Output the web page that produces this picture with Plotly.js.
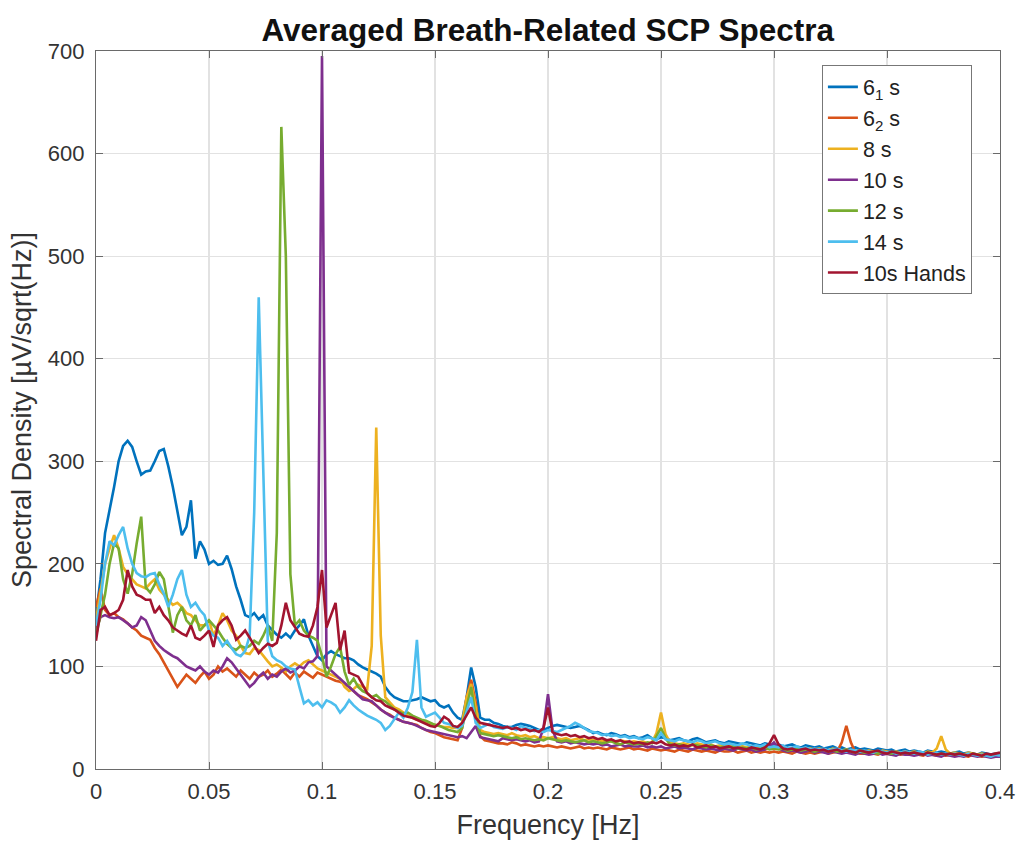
<!DOCTYPE html>
<html>
<head>
<meta charset="utf-8">
<script src="https://cdn.plot.ly/plotly-3.0.1.min.js"></script>
<style>html,body{margin:0;padding:0;background:#fff;}#chart{width:1020px;height:843px;}</style>
</head>
<body>
<div id="chart"></div>
<script>
// Frequency grid [Hz]
const freq = [
0,0.002,0.004,0.006,0.008,0.01,0.012,0.014,0.016,0.018,
0.02,0.022,0.024,0.026,0.028,0.03,0.032,0.034,0.036,0.038,
0.04,0.042,0.044,0.046,0.048,0.05,0.052,0.054,0.056,0.058,
0.06,0.062,0.064,0.066,0.068,0.07,0.072,0.074,0.076,0.078,
0.08,0.082,0.084,0.086,0.088,0.09,0.092,0.094,0.096,0.098,
0.1,0.102,0.104,0.106,0.108,0.11,0.112,0.114,0.116,0.118,
0.12,0.122,0.124,0.126,0.128,0.13,0.132,0.134,0.136,0.138,
0.14,0.142,0.144,0.146,0.148,0.15,0.152,0.154,0.156,0.158,
0.16,0.162,0.164,0.166,0.168,0.17,0.172,0.174,0.176,0.178,
0.18,0.182,0.184,0.186,0.188,0.19,0.192,0.194,0.196,0.198,
0.2,0.202,0.204,0.206,0.208,0.21,0.212,0.214,0.216,0.218,
0.22,0.222,0.224,0.226,0.228,0.23,0.232,0.234,0.236,0.238,
0.24,0.242,0.244,0.246,0.248,0.25,0.252,0.254,0.256,0.258,
0.26,0.262,0.264,0.266,0.268,0.27,0.272,0.274,0.276,0.278,
0.28,0.282,0.284,0.286,0.288,0.29,0.292,0.294,0.296,0.298,
0.3,0.302,0.304,0.306,0.308,0.31,0.312,0.314,0.316,0.318,
0.32,0.322,0.324,0.326,0.328,0.33,0.332,0.334,0.336,0.338,
0.34,0.342,0.344,0.346,0.348,0.35,0.352,0.354,0.356,0.358,
0.36,0.362,0.364,0.366,0.368,0.37,0.372,0.374,0.376,0.378,
0.38,0.382,0.384,0.386,0.388,0.39,0.392,0.394,0.396,0.398,
0.4];

const s6a = [
150,185,230,252,275,300,315,320,314,300,
287,290,291,300,310,312,295,275,250,228,
236,262,205,222,214,200,203,199,200,208,
195,178,165,150,148,152,146,150,140,135,
131,128,132,128,135,140,146,130,120,110,
106,112,115,112,110,108,108,106,102,99,
97,95,93,90,80,74,70,68,66,66,
67,68,70,68,66,67,62,60,62,55,
50,48,70,99,80,50,48,48,45,44,
42,41,41,43,44,43,42,40,38,38,
40,42,43,42,41,40,41,42,40,38,
35,36,34,33,35,34,32,33,31,32,
30,31,33,30,29,31,30,28,29,30,
28,27,29,30,28,26,27,28,26,25,
27,26,25,24,26,25,24,23,25,24,
23,24,22,23,24,22,21,23,22,21,
22,20,21,22,20,21,19,20,21,19,
20,19,18,20,19,18,19,17,18,19,
17,18,17,16,18,17,16,17,16,15,
16,17,15,16,15,14,16,15,14,15,
15];

const s6b = [
158,176,155,150,152,148,146,142,138,135,
130,128,126,118,112,104,96,88,80,86,
92,88,84,90,95,88,92,100,95,98,
94,90,96,92,88,94,90,92,96,90,
93,97,92,88,94,90,95,92,89,94,
92,90,88,86,85,83,80,76,72,70,
68,65,62,58,55,53,50,48,46,45,
44,43,40,38,36,35,33,31,30,29,
28,40,70,87,65,32,28,27,26,25,
25,24,26,25,23,24,23,22,23,22,
23,22,21,22,21,20,21,22,20,21,
20,21,20,19,21,20,19,20,21,19,
20,19,18,20,19,18,19,18,17,19,
18,17,19,18,17,18,17,16,18,17,
17,18,16,17,18,16,17,16,17,16,
17,16,17,16,15,17,16,15,16,15,
16,17,15,16,17,26,42,26,16,15,
15,16,15,14,16,15,14,15,14,15,
14,15,14,13,15,14,13,14,13,14,
13,14,13,12,14,13,12,13,12,13,
14];

const s8 = [
145,175,200,215,228,215,197,190,185,180,
178,176,181,185,175,170,165,160,162,158,
152,150,145,140,140,145,130,140,152,145,
135,130,120,113,112,118,116,110,105,100,
102,99,95,100,103,100,104,106,102,98,
96,94,92,90,88,80,76,78,82,80,
78,120,333,130,70,65,60,58,55,52,
50,48,47,45,44,43,42,41,41,40,
40,45,70,83,60,38,36,35,34,35,
34,33,35,33,32,33,31,32,30,31,
30,31,30,29,30,28,29,30,28,29,
28,29,27,28,27,26,28,27,26,27,
26,27,25,26,35,55,34,26,25,24,
25,24,23,25,24,23,24,22,23,22,
23,22,21,22,21,22,20,21,22,20,
21,20,22,20,19,21,20,19,20,19,
20,19,18,20,19,18,19,18,17,18,
17,18,17,16,18,17,16,17,16,17,
16,17,16,15,17,16,20,32,19,15,
16,15,14,16,15,14,15,14,13,15,
14];

const s10 = [
135,148,150,148,147,148,145,142,138,140,
148,145,135,125,120,116,113,110,108,104,
100,98,96,100,95,92,96,94,100,108,
104,98,92,86,80,84,90,94,88,92,
90,95,98,94,96,100,98,104,105,110,
695,100,96,92,88,84,80,76,72,68,
67,66,62,58,55,52,50,48,46,45,
44,42,40,38,37,36,35,34,33,32,
31,32,30,36,42,31,30,29,28,27,
30,29,28,29,28,27,28,26,27,40,
73,38,27,26,27,25,26,25,24,25,
24,25,23,24,22,23,24,22,23,22,
22,23,21,22,21,22,20,21,22,20,
21,20,19,21,20,19,20,19,18,20,
19,18,20,19,18,19,17,18,19,22,
26,20,18,17,18,17,16,17,18,16,
17,16,15,17,16,15,16,15,14,16,
15,14,15,16,14,15,14,13,15,14,
14,13,14,15,13,14,13,12,14,13,
12,13,12,14,13,12,13,12,11,12,
12];

const s12 = [
130,150,170,200,220,215,185,171,190,220,
246,177,172,180,192,185,158,133,150,158,
145,140,150,135,140,145,140,135,128,122,
118,116,120,118,120,125,122,130,140,125,
230,626,500,190,140,145,135,130,128,125,
110,90,100,112,119,95,82,88,80,76,
74,70,72,68,66,62,58,56,54,55,
52,50,48,47,45,43,42,40,38,37,
36,40,60,80,50,35,34,33,32,33,
32,31,30,31,29,30,29,28,29,28,
30,29,28,27,28,27,26,27,28,26,
27,26,25,26,27,25,24,26,25,24,
25,24,26,25,32,40,30,24,23,24,
23,22,24,23,22,21,23,22,21,22,
21,22,20,21,20,21,19,20,21,19,
20,19,20,18,19,20,18,19,18,17,
18,19,17,18,17,18,19,17,16,17,
16,17,16,15,17,16,15,16,15,16,
15,16,15,14,16,15,14,15,14,15,
14,15,14,13,15,14,13,14,13,14,
14];

const s14 = [
140,165,200,222,218,228,236,215,200,191,
188,187,190,191,180,171,158,170,185,194,
170,158,162,155,150,135,130,128,120,125,
118,112,110,115,130,250,460,280,125,110,
106,104,100,98,97,80,64,67,62,65,
60,67,65,62,55,60,67,62,58,55,
52,50,48,45,38,42,48,55,50,60,
75,126,60,51,53,55,50,45,44,42,
40,42,55,70,45,40,42,44,41,40,
39,41,40,38,42,40,39,37,38,36,
38,37,36,38,40,42,45,43,40,37,
36,35,33,34,32,33,31,32,30,31,
30,29,31,30,28,35,29,28,27,29,
28,27,26,28,27,25,26,27,25,24,
25,24,23,25,24,22,23,22,24,21,
22,21,23,20,21,22,20,21,19,20,
19,20,18,19,20,18,17,19,18,17,
18,17,16,18,17,16,17,15,16,17,
16,15,17,16,14,15,16,14,15,14,
15,14,13,15,14,13,14,13,12,14,
13];

const s10h = [
125,155,158,150,152,155,165,194,178,170,
168,165,165,152,158,150,145,138,135,132,
130,140,128,126,130,135,119,140,145,148,
140,126,130,135,128,120,113,118,122,120,
123,140,162,145,138,132,130,129,140,158,
194,138,150,162,116,135,94,92,90,82,
74,70,67,66,62,60,58,55,52,51,
50,48,46,44,42,41,45,51,48,42,
41,45,52,60,50,45,44,43,42,41,
40,41,39,40,38,39,37,38,36,40,
60,36,34,33,34,32,33,31,32,30,
31,29,30,28,29,27,28,26,27,25,
26,25,24,26,25,27,24,23,24,22,
23,22,24,21,22,23,21,22,20,21,
22,20,21,20,19,21,20,19,21,25,
33,24,20,19,20,18,19,20,18,19,
18,19,17,18,19,17,18,17,16,18,
17,16,17,18,16,15,17,16,15,16,
15,16,15,14,16,15,14,15,14,15,
14,15,14,13,15,14,13,15,14,15,
16];

const seriesNames = ['6<sub>1</sub> s', '6<sub>2</sub> s', '8 s', '10 s', '12 s', '14 s', '10s Hands'];
const seriesData = [s6a, s6b, s8, s10, s12, s14, s10h];
const seriesColors = ['#0072BD', '#D95319', '#EDB120', '#7E2F8E', '#77AC30', '#4DBEEE', '#A2142F'];

const traces = seriesData.map((y, k) => ({
  type: 'scatter', mode: 'lines', x: freq, y: y, name: seriesNames[k],
  line: {color: seriesColors[k], width: 2.6}
}));

const FONT = 'Liberation Sans, Arial, sans-serif';
const axisCommon = {
  showgrid: true, gridcolor: '#e2e2e2', gridwidth: 1.2,
  showline: true, linecolor: '#6a6a6a', linewidth: 1.2, mirror: 'ticks',
  ticks: 'inside', ticklen: 7, tickcolor: '#6a6a6a',
  zeroline: false,
  tickfont: {family: FONT, size: 22, color: '#333'}
};

const layout = {
  width: 1020, height: 843,
  paper_bgcolor: '#fff', plot_bgcolor: '#fff',
  margin: {l: 96, r: 20, t: 51, b: 74},
  title: {text: '<b>Averaged Breath-Related SCP Spectra</b>', x: 0.537, xanchor: 'center', y: 0.964, yanchor: 'middle',
          font: {family: FONT, size: 31.5, color: '#111'}},
  xaxis: Object.assign({}, axisCommon, {
    range: [0, 0.4], tickvals: [0,0.05,0.1,0.15,0.2,0.25,0.3,0.35,0.4],
    ticktext: ['0','0.05','0.1','0.15','0.2','0.25','0.3','0.35','0.4'],
    ticklabelstandoff: 2,
    title: {text: 'Frequency [Hz]', standoff: 12, font: {family: FONT, size: 27, color: '#333'}}
  }),
  yaxis: Object.assign({}, axisCommon, {
    range: [0, 700], tickvals: [0,100,200,300,400,500,600,700],
    ticklabelstandoff: 6,
    title: {text: 'Spectral Density [µV/sqrt(Hz)]', standoff: 8, font: {family: FONT, size: 27, color: '#333'}}
  }),
  showlegend: true,
  legend: {x: 0.803, y: 0.98, xanchor: 'left', yanchor: 'top',
    bgcolor: '#fff', bordercolor: '#777', borderwidth: 1,
    font: {family: FONT, size: 21.5, color: '#222'},
    itemwidth: 30, tracegroupgap: 0}
};

Plotly.newPlot('chart', traces, layout, {displayModeBar: false, staticPlot: true});
</script>
</body>
</html>
